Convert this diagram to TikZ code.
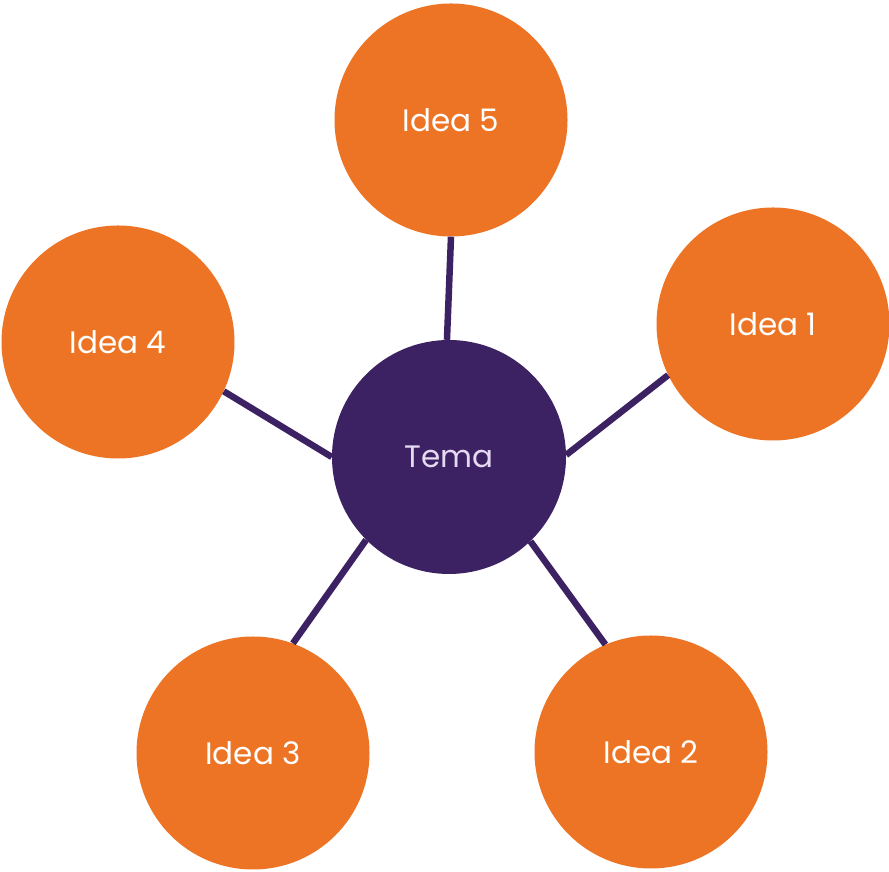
\documentclass[tikz,border=0pt]{standalone}
\usepackage{fontspec}
\setmainfont{Poppins}
\definecolor{ideaorange}{HTML}{EC7424}
\definecolor{temapurple}{HTML}{3C2262}
\definecolor{tematext}{HTML}{E6DAF2}
\begin{document}
\begin{tikzpicture}[x=1pt,y=1pt,
  idea/.style={circle,fill=ideaorange,minimum size=233pt,inner sep=0pt,text=white,font=\fontsize{31}{36}\selectfont},
  tema/.style={circle,fill=temapurple,minimum size=234pt,inner sep=0pt,text=tematext,font=\fontsize{31}{36}\selectfont},
  link/.style={draw=temapurple,line width=6.5pt}]
\useasboundingbox (0,0) rectangle (889,872);
\fill[white] (0,0) rectangle (889,872);
\node[tema] (t) at (449,415) {Tema};
\node[idea] (i5) at (451,752) {Idea 5};
\node[idea] (i1) at (773,548) {Idea 1};
\node[idea] (i4) at (118,530) {Idea 4};
\node[idea] (i3) at (253,119) {Idea 3};
\node[idea] (i2) at (651,120) {Idea 2};
\draw[link] (t.91) -- (i5.270);
\draw[link] (t.1) -- (i1.206);
\draw[link] (t.180) -- (i4.335);
\draw[link] (t.225) -- (i3.70);
\draw[link] (t.314) -- (i2.113);
\end{tikzpicture}
\end{document}
